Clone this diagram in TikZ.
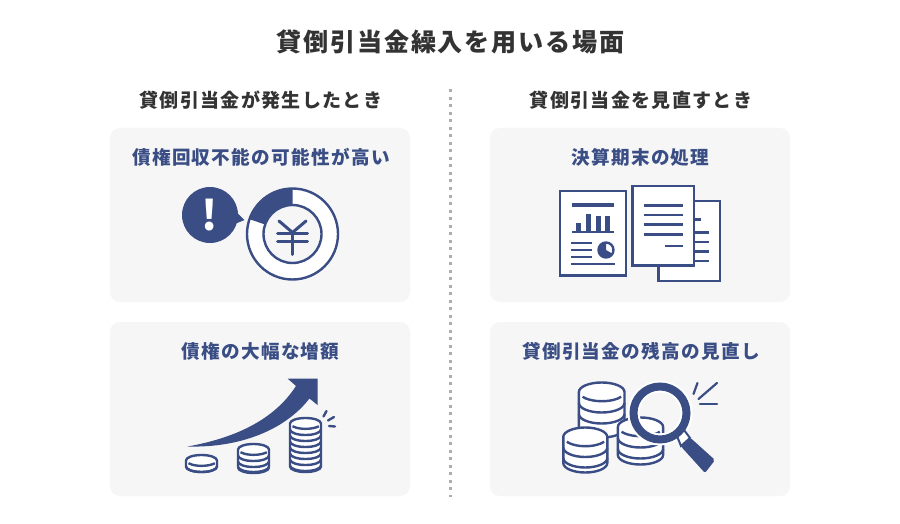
\documentclass[tikz,border=0pt]{standalone}
\usepackage{fontspec}
\setmainfont{Noto Sans CJK JP}
\newfontfamily\jpfont[LetterSpace=7]{Noto Sans CJK JP}
\definecolor{navy}{HTML}{3A4E85}
\definecolor{ink}{HTML}{333333}
\definecolor{cardbg}{HTML}{F6F6F6}
\tikzset{
  card/.style={fill=cardbg,rounded corners=10pt,minimum width=300pt,minimum height=174pt,inner sep=0pt},
  titletext/.style={text=ink,font=\jpfont\bfseries\fontsize{25.1}{28}\selectfont},
  headtext/.style={text=ink,font=\jpfont\bfseries\fontsize{19}{22}\selectfont},
  cardtext/.style={text=navy,font=\jpfont\bfseries\fontsize{18.6}{22}\selectfont},
  icon/.style={draw=navy,line width=2.4pt},
  page/.style={draw=navy,fill=white,line width=2.6pt},
  ruled/.style={draw=navy,line width=2.2pt}
}
% stack: x, top y, radius x, radius y, layers, gap, total height
\newcommand{\coinstack}[7]{
  \draw[icon,fill=white] (#1-#3,#2+#4) arc[start angle=180,end angle=0,x radius=#3,y radius=-#4]
    -- (#1+#3,#2+#7-#4) arc[start angle=0,end angle=-180,x radius=#3,y radius=-#4] -- cycle;
  \draw[icon] (#1-#3*0.84,#2+#4*1.5) arc[start angle=212,end angle=328,x radius=#3,y radius=-#4];
  \foreach \n in {1,...,#5}
    \draw[icon] (#1-#3,#2+#4+\n*#6) arc[start angle=180,end angle=360,x radius=#3,y radius=-#4];
}
\begin{document}
\begin{tikzpicture}[x=1pt,y=-1pt]
   \useasboundingbox (0,0) rectangle (900,524);
   \fill[white] (0,0) rectangle (900,524);
   \node[titletext] (title) at (450.5,42) {貸倒引当金繰入を用いる場面};
   \node[headtext] (headleft) at (261,100) {貸倒引当金が発生したとき};
   \node[headtext] (headright) at (641,100) {貸倒引当金を見直すとき};
   \node[card] (cardA) at (260,215) {};
   \node[card] (cardB) at (260,409) {};
   \node[card] (cardC) at (640,215) {};
   \node[card] (cardD) at (640,409) {};
   \node[cardtext] (labelA) at (261,157) {債権回収不能の可能性が高い};
   \node[cardtext] (labelB) at (260.5,351) {債権の大幅な増額};
   \node[cardtext] (labelC) at (640.5,157) {決算期末の処理};
   \node[cardtext] (labelD) at (641,351) {貸倒引当金の残高の見直し};
   \draw[draw=black!32,line width=3pt,dash pattern=on 3pt off 4.5pt] (450.3,89.5) -- (450.3,497);
   % card A
   \fill[navy] (210,215) circle (28);
   \fill[navy] (232,208) -- (244.5,220) -- (230,226) -- cycle;
   \node[text=white,font=\bfseries\fontsize{41}{41}\selectfont] (mark) at (209.5,215) {!};
   \draw[icon,fill=white] (292.5,234) circle (45.5);
   \fill[navy] (292.5,188) arc[start angle=90,end angle=161,x radius=46,y radius=-46]
     -- (265.1,224.5) arc[start angle=161,end angle=90,x radius=29,y radius=-29] -- cycle;
   \draw[icon,fill=cardbg] (292.5,234) circle (29);
   \draw[navy,line width=3pt,line cap=round,line join=round] (279,221) -- (292.5,232.5) -- (306,221);
   \draw[navy,line width=3pt,line cap=round] (277.5,233.5) -- (307.5,233.5);
   \draw[navy,line width=3pt,line cap=round] (277.5,241.5) -- (307.5,241.5);
   \draw[navy,line width=3pt,line cap=round] (292.5,232.5) -- (292.5,254.5);
   % card C
   \draw[page] (658.5,201) rectangle (720,281);
   \foreach \y in {232.5,242,251.5,261}
     \draw[ruled] (694,\y) -- (709,\y);
   \draw[navy,line width=3pt] (694,219.5) -- (701,219.5);
   \draw[page] (632.5,186) rectangle (694,265.5);
   \foreach \y in {205.5,215,224.5,234.5}
     \draw[ruled] (643.5,\y) -- (683,\y);
   \draw[ruled] (665,246) -- (683,246);
   \draw[page] (560,191) rectangle (626,275.5);
   \draw[navy,line width=4pt] (571.5,205) -- (614,205);
   \draw[ruled] (572,232) -- (614,232);
   \foreach \x/\y in {578/223,588/213.5,598/216,607/216}
     \fill[navy] (\x-2.5,\y) rectangle (\x+2.5,232);
   \foreach \y in {243,250,257}
     \draw[ruled] (571,\y) -- (592,\y);
   \draw[ruled] (571,264) -- (615,264);
   \draw[icon,fill=white] (606,250) circle (7.5);
   \fill[navy] (606,250) -- (606,242.5) arc[start angle=90,end angle=330,x radius=7.5,y radius=-7.5] -- cycle;
   % card B
   \fill[navy] (187.5,446.5) .. controls (235,438) and (274,420) .. (296,386)
     -- (287.5,378.5) -- (317.5,378.5) -- (317.5,405) -- (309.5,398.5)
     .. controls (285,430) and (240,448) .. cycle;
   \coinstack{201.5}{455}{15.5}{5.5}{1}{6}{17}
   \coinstack{253.5}{444}{15.5}{5.5}{3}{6}{28}
   \coinstack{305.5}{418}{15.5}{5.5}{7}{6}{54}
   \draw[navy,line width=2.4pt,line cap=round] (323.5,416.5) -- (326.5,411);
   \draw[navy,line width=2.4pt,line cap=round] (328,420.5) -- (334,417);
   \draw[navy,line width=2.4pt,line cap=round] (329,426) -- (335,426.5);
   % card D
   \coinstack{601.7}{382.5}{22.8}{9.5}{2}{11}{55}
   \coinstack{640.5}{417.5}{22.6}{9.5}{2}{11}{47}
   \coinstack{585.3}{427.5}{22}{9.5}{2}{10.5}{45}
   \draw[white,line width=12pt] (660,413) circle (26.5);
   \draw[icon,fill=white,line width=2pt] (677,436) -- (684,430) -- (690,438) -- (681,446) -- cycle;
   \draw[navy,line width=8pt] (660,413) circle (26.5);
   \fill[navy,rounded corners=2pt] (690,437.5) -- (715,460) -- (705,473) -- (681,446.5) -- cycle;
   \draw[navy,line width=2.2pt,line cap=round] (697.5,383) -- (693.5,394);
   \draw[navy,line width=2.2pt,line cap=round] (717,383) -- (698.5,399);
   \draw[navy,line width=2.2pt,line cap=round] (700,404) -- (717,404);
\end{tikzpicture}
\end{document}
